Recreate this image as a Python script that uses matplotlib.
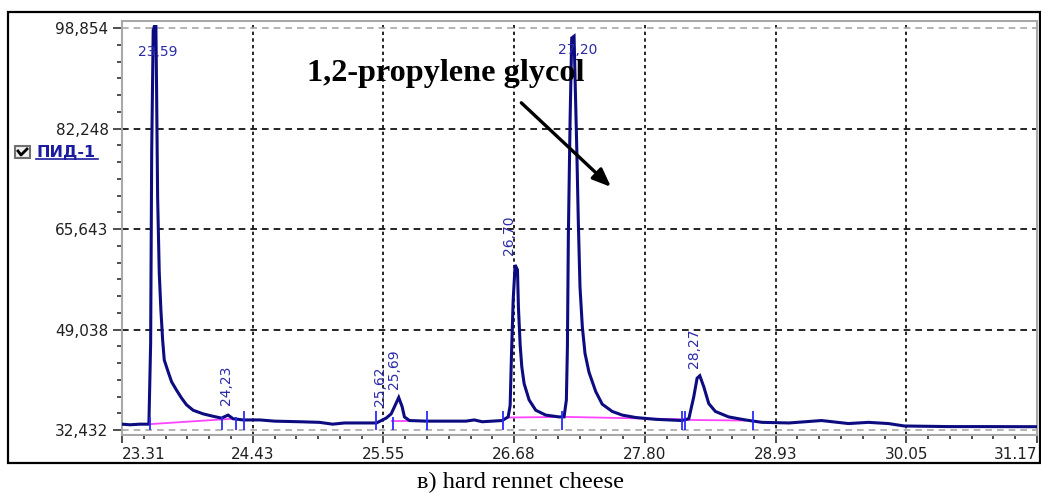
"""Chromatogram of hard rennet cheese (ПИД-1 detector), 1,2-propylene glycol marked."""
import matplotlib
matplotlib.use("Agg")
import matplotlib.pyplot as plt
from matplotlib.lines import Line2D
from matplotlib.patches import Rectangle
import numpy as np

# ---------------------------------------------------------------------------
# Data
# ---------------------------------------------------------------------------

# retention time, min
rt = [
    23.31, 23.379, 23.464, 23.541, 23.556, 23.565, 23.578, 23.587, 23.601,
    23.607, 23.616, 23.630, 23.644, 23.659, 23.673, 23.702, 23.736, 23.779,
    23.822, 23.864, 23.921, 24.007, 24.093, 24.165, 24.221, 24.264, 24.350,
    24.493, 24.621, 24.836, 25.007, 25.119, 25.221, 25.350, 25.496, 25.579,
    25.622, 25.687, 25.716, 25.736, 25.779, 25.922, 26.264, 26.336, 26.404,
    26.576, 26.627, 26.644, 26.655, 26.670, 26.687, 26.707, 26.715, 26.730,
    26.744, 26.764, 26.807, 26.864, 26.950, 27.064, 27.107, 27.127, 27.136,
    27.144, 27.159, 27.173, 27.193, 27.216, 27.230, 27.244, 27.264, 27.287,
    27.321, 27.379, 27.435, 27.521, 27.607, 27.722, 27.893, 28.121, 28.179,
    28.221, 28.250, 28.273, 28.307, 28.350, 28.407, 28.521, 28.664, 28.807,
    29.040, 29.318, 29.550, 29.721, 29.893, 30.030, 30.407, 30.690, 31.170,
]
# detector signal
signal = [
    33.4, 33.3, 33.4, 33.4, 46.8, 78.4, 98.5, 99.1, 99.1,
    88.6, 70.9, 58.4, 52.3, 47.3, 44.0, 42.3, 40.4, 39.0,
    37.7, 36.6, 35.7, 35.1, 34.7, 34.4, 34.9, 34.3, 34.1,
    34.1, 33.9, 33.8, 33.7, 33.4, 33.6, 33.6, 33.6, 34.4,
    35.1, 37.8, 36.3, 34.6, 34.0, 33.9, 33.9, 34.1, 33.8,
    34.0, 34.6, 36.5, 44.5, 53.9, 59.7, 58.9, 52.8, 46.5,
    42.9, 40.1, 37.4, 35.7, 34.9, 34.6, 34.6, 37.4, 46.2,
    64.4, 83.7, 97.2, 97.5, 79.2, 66.6, 56.1, 49.5, 45.1,
    42.0, 38.8, 36.7, 35.5, 34.9, 34.5, 34.2, 34.0, 34.3,
    37.9, 41.0, 41.4, 39.6, 36.8, 35.5, 34.6, 34.1, 33.7,
    33.6, 34.0, 33.5, 33.7, 33.5, 33.1, 33.0, 33.0, 32.98,
]

# integration baselines
base_rt = [[23.547, 24.26], [25.633, 25.80], [26.63, 27.12, 28.14], [28.16, 28.66]]
base_sig = [[33.4, 34.3], [33.97, 33.97], [34.5, 34.6, 34.2], [34.1, 34.0]]

# peak start/end markers
marker_rt = [23.55, 24.173, 24.287, 24.356, 25.493, 25.636, 25.930,
             26.584, 27.093, 28.116, 28.150, 28.727]
marker_tall = [False, False, False, True, True, False, True,
               True, True, True, True, True]

# peak labels
peak_names = ["23,59", "24,23", "25,62", "25,69", "26,70", "27,20", "28,27"]
peak_rt = [23.619, 24.201, 25.527, 25.650, 26.636, 27.227, 28.220]
peak_sig = [94.9, 39.9, 39.7, 42.5, 64.6, 95.2, 46.0]
peak_vertical = [False, True, True, True, True, False, True]

x_labels = ["23.31", "24.43", "25.55", "26.68", "27.80", "28.93", "30.05", "31.17"]
y_labels = ["32,432", "49,038", "65,643", "82,248", "98,854"]

X_MIN, X_MAX = 23.31, 31.17
Y_MIN, Y_MAX = 32.432, 98.854

TRACE = "#0c0c80"
LABEL_BLUE = "#2b2ba8"
MARK_BLUE = "#2a2aff"
GREY = "#a8a8a8"

# ---------------------------------------------------------------------------
# Figure
# ---------------------------------------------------------------------------

plt.rcParams["font.family"] = ["DejaVu Sans"]

fig = plt.figure(figsize=(10.41, 4.97), dpi=100)
ax = fig.add_axes([0.1172, 0.1247, 0.8790, 0.8330])

x_major = np.linspace(X_MIN, X_MAX, len(x_labels))
y_major = np.linspace(Y_MIN, Y_MAX, len(y_labels))
x_minor = np.linspace(X_MIN, X_MAX, (len(x_labels) - 1) * 6 + 1)
y_minor = np.linspace(Y_MIN, Y_MAX, (len(y_labels) - 1) * 6 + 1)

ax.set_xlim(X_MIN, X_MAX)
ax.set_ylim(31.606, 100.01)

# grid
for xv in x_major[1:-1]:
    ax.axvline(xv, color="black", lw=1.2, ls=(0, (2, 2)), zorder=1)
for yv in y_major[1:-1]:
    ax.axhline(yv, color="black", lw=1.2, ls=(0, (4, 3)), zorder=1)
for yv in (y_major[0], y_major[-1]):
    ax.axhline(yv, color=GREY, lw=1.2, ls=(0, (4, 3)), zorder=1)

# baselines
for bx, by in zip(base_rt, base_sig):
    ax.plot(bx, by, color="#ff44ff", lw=1.3, zorder=2)

# chromatogram
ax.plot(rt, signal, color=TRACE, lw=2.2, solid_joinstyle="miter", zorder=3)

# peak markers
for mx, tall in zip(marker_rt, marker_tall):
    top = 35.6 if tall else 34.6
    ax.vlines(mx, 32.5, top, color=MARK_BLUE, lw=1.3, zorder=4)

# peak labels
for name, px, py, vert in zip(peak_names, peak_rt, peak_sig, peak_vertical):
    ax.text(px, py, name, color=LABEL_BLUE, fontsize=10,
            rotation=90 if vert else 0, ha="center", va="center", zorder=5)

# annotation
ax.text(0.2025, 0.855, "1,2-propylene glycol", transform=ax.transAxes,
        family="Liberation Serif", fontweight="bold", fontsize=23.2,
        ha="left", va="baseline", zorder=6)
ax.annotate("", xy=(27.51, 72.6), xytext=(26.74, 86.5),
            arrowprops=dict(arrowstyle="-|>,head_length=1.1,head_width=0.45",
                            color="black", lw=2.4, shrinkA=0, shrinkB=0),
            zorder=6)

# axes styling
for side in ("left", "right", "top", "bottom"):
    ax.spines[side].set_color(GREY)
    ax.spines[side].set_linewidth(1.5)

ax.set_xticks(x_major)
ax.set_xticklabels(x_labels)
ax.set_xticks(x_minor, minor=True)
ax.set_yticks(y_major)
ax.set_yticklabels(y_labels)
ax.set_yticks(y_minor, minor=True)
ax.tick_params(axis="x", which="major", direction="out", length=5.8, width=1.2,
               color="#303030", pad=2.9, labelsize=11, labelcolor="#202020")
ax.tick_params(axis="x", which="minor", direction="out", length=2.9, width=1.2,
               color="#303030")
ax.tick_params(axis="y", which="major", direction="out", length=6.5, width=1.2,
               color="#303030", pad=3.2, labelsize=11, labelcolor="#202020")
ax.tick_params(axis="y", which="minor", direction="out", length=3.6, width=1.2,
               color="#303030")
ax.get_xticklabels()[0].set_horizontalalignment("left")
ax.get_xticklabels()[-1].set_horizontalalignment("right")

# detector checkbox legend
fig.add_artist(Rectangle((15 / 1041, 1 - 158 / 497), 15 / 1041, 12 / 497,
                         transform=fig.transFigure, facecolor="#f0f0f0",
                         edgecolor="#707070", lw=1.5))
fig.add_artist(Line2D([18 / 1041, 21 / 1041, 27 / 1041],
                      [1 - 151 / 497, 1 - 155 / 497, 1 - 149 / 497],
                      transform=fig.transFigure, color="black", lw=2))
fig.text(36 / 1041, 1 - 152 / 497, "ПИД-1", color="#1c1ca0", fontsize=11.5,
         fontweight="bold", ha="left", va="center")
fig.add_artist(Line2D([36 / 1041, 98 / 1041], [1 - 159 / 497, 1 - 159 / 497],
                      transform=fig.transFigure, color="#1c1ca0", lw=1.2))

# outer frame and caption
fig.add_artist(Rectangle((8 / 1041, 1 - 463 / 497), 1032 / 1041, 451 / 497,
                         transform=fig.transFigure, fill=False,
                         edgecolor="black", lw=1.6))
fig.text(0.5, 1 - 482 / 497, "в) hard rennet cheese", family="Liberation Serif",
         fontsize=17.5, ha="center", va="center")

fig.savefig("out.png", dpi=100)
